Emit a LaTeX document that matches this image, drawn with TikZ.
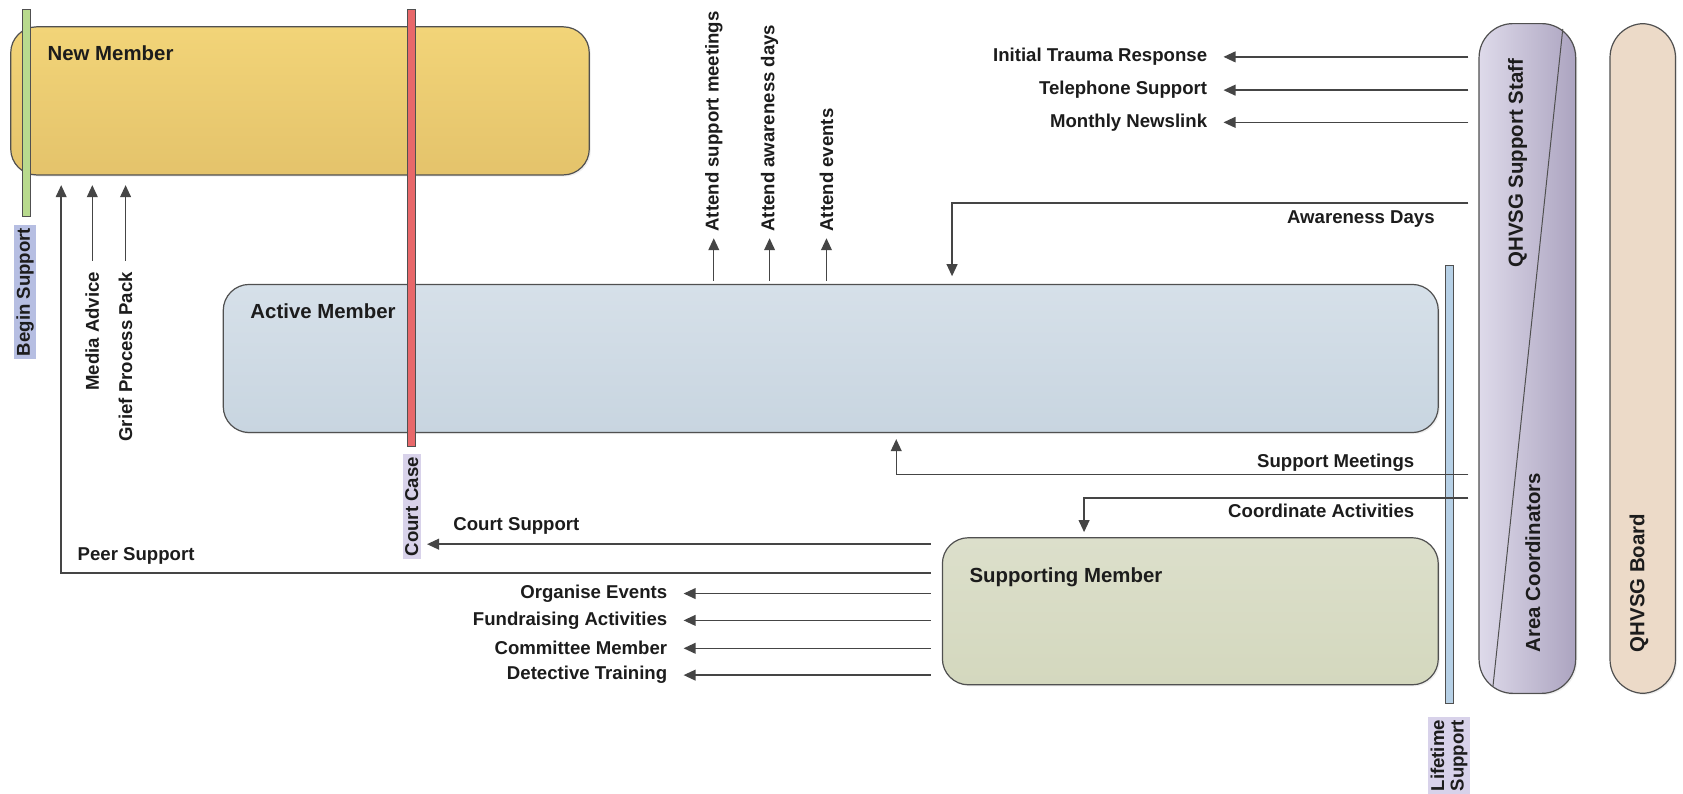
\documentclass[tikz,border=0pt]{standalone}
\usepackage{fontspec}
\setmainfont{Liberation Sans}
\usetikzlibrary{arrows.meta,fit,shadows,calc}
\definecolor{nmT}{HTML}{F2D478}
\definecolor{nmB}{HTML}{E4C36B}
\definecolor{amT}{HTML}{D6E0E9}
\definecolor{amB}{HTML}{C8D5E0}
\definecolor{smT}{HTML}{DCDFCB}
\definecolor{smB}{HTML}{D4D8BE}
\definecolor{staffL}{HTML}{DEDAEA}
\definecolor{staffR}{HTML}{ACA4C0}
\definecolor{boardc}{HTML}{ECDAC8}
\definecolor{greenbar}{HTML}{B8DA8E}
\definecolor{redbar}{HTML}{E8686A}
\definecolor{lifebar}{HTML}{B6D0E6}
\definecolor{bslab}{HTML}{B6BEE2}
\definecolor{cclab}{HTML}{D8D2EA}
\definecolor{linec}{HTML}{454545}
\definecolor{boxline}{HTML}{505050}
\definecolor{txt}{HTML}{1C1C1C}
\newcommand\labfont{\fontsize{9.3}{11}\selectfont\bfseries}
\newcommand\ttlfont{\fontsize{10.2}{12}\selectfont\bfseries}
\begin{document}
\begin{tikzpicture}[x=0.53665pt,y=-0.53665pt,
  conn/.style={draw=linec, line width=0.7pt},
  arr/.style={conn, -{Triangle[length=6pt,width=5.4pt]}},
  lab/.style={font=\labfont, text=txt, inner sep=0pt},
  ttl/.style={font=\ttlfont, text=txt, inner sep=0pt},
  rlab/.style={lab, rotate=90},
  tagged/.style={lab, rotate=90, inner xsep=1.5pt, inner ysep=1.2pt},
  box/.style={draw=boxline, line width=0.6pt, rounded corners=13pt, inner sep=0pt,
    drop shadow={opacity=0.12, shadow xshift=0.8pt, shadow yshift=-0.8pt}},
  pill/.style={box, rounded corners=17pt},
  bar/.style={draw=boxline, line width=0.5pt, inner sep=0pt}]
\useasboundingbox (0,0) rectangle (1568,739);
\fill[white] (0,0) rectangle (1568,739);

% main boxes
\node[box, fit={(10,25)(549,163)}, top color=nmT, bottom color=nmB] (new) {};
\node[ttl, anchor=west] (newt) at (44,50) {New Member};
\node[box, fit={(208,265)(1340,403)}, top color=amT, bottom color=amB] (active) {};
\node[ttl, anchor=west] (activet) at (233,290) {Active Member};
\node[box, fit={(878,501)(1340,638)}, top color=smT, bottom color=smB] (supp) {};
\node[ttl, anchor=west] (suppt) at (903,538) {Supporting Member};

% right pills
\node[pill, fit={(1378,22)(1468,646)}, left color=staffL, right color=staffR] (staff) {};
\draw[draw=boxline, line width=0.5pt] (1456,27) -- (1391,639);
\node[ttl, rotate=90] (stafft) at (1414,152) {QHVSG Support Staff};
\node[ttl, rotate=90, anchor=west] (areat) at (1428,608) {Area Coordinators};
\node[pill, fit={(1500,22)(1561,646)}, fill=boardc] (board) {};
\node[ttl, rotate=90, anchor=west] (boardt) at (1527,608) {QHVSG Board};

% bars
\node[bar, fit={(21,9)(28,202)}, fill=greenbar] (bsbar) {};
\node[tagged, fill=bslab] (bsl) at (23.5,272) {Begin Support};
\node[bar, fit={(380,9)(387,416)}, fill=redbar] (ccbar) {};
\node[tagged, fill=cclab] (ccl) at (383.5,472) {Court Case};
\node[bar, fit={(1347,247)(1354,655)}, fill=lifebar] (ltbar) {};
\node[tagged, fill=cclab, align=center, font=\fontsize{9.3}{9.8}\selectfont\bfseries] (ltl) at (1350,704) {Lifetime\\Support};

% incoming from staff
\node[lab, anchor=east] (itr) at (1125,53) {Initial Trauma Response};
\node[lab, anchor=east] (tel) at (1125,84) {Telephone Support};
\node[lab, anchor=east] (mnl) at (1125,114) {Monthly Newslink};
\coordinate (r1) at (1368,53);
\coordinate (r2) at (1368,84);
\coordinate (r3) at (1368,114);
\draw[arr] (r1) -- ([xshift=8pt]itr.east);
\draw[arr] (r2) -- ([xshift=8pt]tel.east);
\draw[arr] (r3) -- ([xshift=8pt]mnl.east);

% awareness days
\coordinate (r4) at (1368,189);
\coordinate (adx) at (887,189);
\node[lab, anchor=east] (adl) at (1337,204) {Awareness Days};
\draw[arr] (r4) -- (adx) -- ([yshift=3.8pt]adx |- active.north);

% attend arrows
\node[rlab, anchor=west] (att1) at (665,216) {Attend support meetings};
\node[rlab, anchor=west] (att2) at (717,216) {Attend awareness days};
\node[rlab, anchor=west] (att3) at (770,216) {Attend events};
\draw[arr] ([yshift=1.5pt]active.north -| att1.west) -- ([yshift=-3.2pt]att1.west);
\draw[arr] ([yshift=1.5pt]active.north -| att2.west) -- ([yshift=-3.2pt]att2.west);
\draw[arr] ([yshift=1.5pt]active.north -| att3.west) -- ([yshift=-3.2pt]att3.west);

% support meetings / coordinate activities
\coordinate (r6) at (1368,442);
\coordinate (smx) at (835,442);
\node[lab, anchor=east] (sml) at (1318,431) {Support Meetings};
\draw[arr] (r6) -- (smx) -- ([yshift=-3pt]smx |- active.south);
\coordinate (r7) at (1368,464);
\coordinate (cax) at (1010,464);
\node[lab, anchor=east] (cal) at (1318,476) {Coordinate Activities};
\draw[arr] (r7) -- (cax) -- ([yshift=2.5pt]cax |- supp.north);

% court support
\coordinate (l8) at (867,507);
\node[lab, anchor=west] (csl) at (422,490) {Court Support};
\draw[arr] (l8) -- ([xshift=3pt]ccl.south |- l8);

% peer support
\coordinate (l9) at (867,534);
\coordinate (psx) at (57,534);
\node[lab, anchor=west] (psl) at (72,518) {Peer Support};
\draw[arr] (l9) -- (psx) -- ([yshift=-4.8pt]psx |- new.south);

% media advice / grief pack
\node[rlab, anchor=east] (mal) at (86,253) {Media Advice};
\node[rlab, anchor=east] (gpl) at (117,253) {Grief Process Pack};
\draw[arr] ([yshift=5.4pt]mal.east) -- ([yshift=-4.8pt]mal.east |- new.south);
\draw[arr] ([yshift=5.4pt]gpl.east) -- ([yshift=-4.8pt]gpl.east |- new.south);

% supporting member outputs
\node[lab, anchor=east] (oel) at (622,553) {Organise Events};
\node[lab, anchor=east] (fal) at (622,578) {Fundraising Activities};
\node[lab, anchor=east] (cml) at (622,604) {Committee Member};
\node[lab, anchor=east] (dtl) at (622,629) {Detective Training};
\coordinate (o1) at (867,553);
\coordinate (o2) at (867,578);
\coordinate (o3) at (867,604);
\coordinate (o4) at (867,629);
\draw[arr] (o1) -- ([xshift=8pt]oel.east);
\draw[arr] (o2) -- ([xshift=8pt]fal.east);
\draw[arr] (o3) -- ([xshift=8pt]cml.east);
\draw[arr] (o4) -- ([xshift=8pt]dtl.east);
\end{tikzpicture}
\end{document}
